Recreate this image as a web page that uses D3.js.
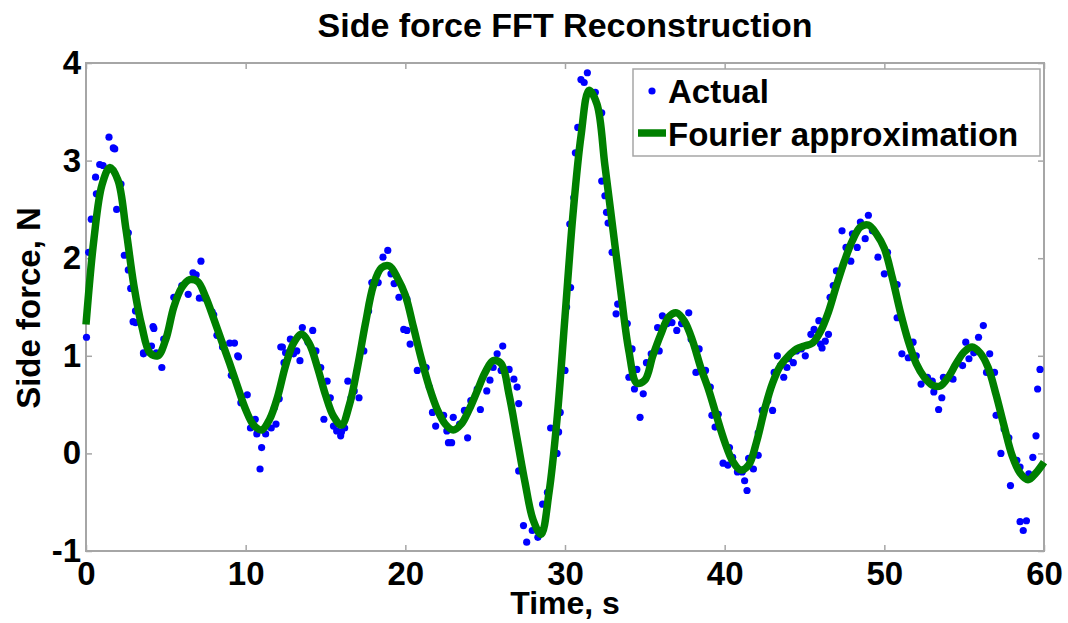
<!DOCTYPE html>
<html>
<head>
<meta charset="utf-8">
<script src="https://cdn.jsdelivr.net/npm/d3@7"></script>
<style>
  html, body { margin: 0; padding: 0; background: #fff; }
  svg text { font-family: "Liberation Sans", Arial, Helvetica, sans-serif; font-weight: bold; fill: #000; }
</style>
</head>
<body>
<svg id="chart" width="1068" height="623"></svg>
<script>
// Measured side force samples (time in s, force in N)
const actualTime = [
  0.03, 0.17, 0.33, 0.6, 0.65, 0.86, 1.07, 1.44, 1.71, 1.8, 1.92, 2.19, 2.4, 2.65, 2.65, 2.8, 2.95, 3.1, 3.1, 3.6, 3.6,
  4.1, 4.2, 4.25, 4.4, 4.75, 4.87, 5.5, 5.6, 6.0, 6.4, 6.7, 6.9, 7.1, 7.2, 7.4, 7.9, 8.0, 8.2, 8.55, 9.0, 9.1, 9.3,
  9.5, 9.55, 9.7, 10.1, 10.3, 10.6, 10.7, 10.9, 11.0, 11.25, 11.6, 11.8, 11.9, 12.1, 12.2, 12.3, 12.4, 12.5, 12.8,
  13.0, 13.2, 13.4, 13.55, 13.9, 14.2, 14.4, 14.7, 14.9, 15.1, 15.3, 15.5, 15.7, 15.95, 16.0, 16.2, 16.4, 16.6, 16.8,
  17.1, 17.4, 17.7, 17.9, 18.3, 18.6, 18.9, 19.1, 19.3, 19.6, 19.9, 20.1, 20.1, 20.3, 20.75, 21.3, 21.5, 21.7, 21.9,
  22.4, 22.6, 22.7, 22.9, 23.0, 23.4, 23.7, 23.9, 24.1, 24.5, 24.7, 25.1, 25.3, 25.5, 25.75, 26.0, 26.1, 26.5, 26.8,
  27.0, 27.1, 27.1, 27.4, 27.6, 27.95, 28.3, 28.6, 28.9, 29.1, 29.5, 29.6, 29.7, 29.9, 30.0, 30.1, 30.3, 30.35, 30.55,
  30.65, 30.8, 31.0, 31.2, 31.4, 31.9, 32.3, 32.3, 32.5, 32.6, 32.7, 32.95, 33.2, 33.3, 33.6, 33.9, 34.0, 34.2, 34.35,
  34.5, 34.7, 34.9, 35.1, 35.4, 35.8, 35.9, 36.1, 36.4, 36.7, 37.0, 37.3, 37.75, 37.9, 38.2, 38.4, 38.8, 39.1, 39.2,
  39.4, 39.6, 39.9, 40.2, 40.3, 40.5, 40.8, 41.1, 41.25, 41.4, 41.5, 41.8, 42.1, 42.1, 42.35, 42.7, 43.0, 43.1, 43.3,
  43.5, 43.7, 43.9, 44.0, 44.3, 44.5, 44.8, 45.05, 45.4, 45.6, 45.9, 46.0, 46.1, 46.3, 46.5, 46.6, 46.8, 47.0, 47.35,
  47.6, 47.9, 48.0, 48.3, 48.5, 48.8, 49.0, 49.25, 49.6, 50.0, 50.2, 50.8, 50.8, 51.1, 51.5, 51.8, 52.0, 52.3, 52.7,
  53.0, 53.1, 53.4, 53.6, 53.7, 54.3, 54.6, 54.9, 55.1, 55.3, 55.6, 55.9, 56.2, 56.4, 56.6, 56.9, 57.0, 57.3, 57.5,
  57.8, 57.9, 58.3, 58.5, 58.5, 58.7, 58.9, 59.05, 59.3, 59.5, 59.6, 59.75
];
const actualForce = [
  1.19, 2.06, 2.40, 2.83, 2.66, 2.96, 2.95, 3.24, 3.13, 3.12, 2.50, 2.76, 2.03, 2.26, 1.88, 1.69, 1.35, 1.46, 1.34, 1.02, 1.03,
  1.10, 1.30, 1.28, 1.03, 0.88, 1.17, 1.60, 1.60, 1.72, 1.63, 1.85, 1.83, 1.59, 1.97, 1.59, 1.45, 1.42, 1.21, 1.09, 1.13, 0.80, 1.13,
  1.00, 0.99, 0.52, 0.60, 0.26, 0.35, 0.20, -0.16, 0.06, 0.20, 0.26, 0.47, 0.30, 0.56, 1.09, 1.09, 0.93, 1.03, 1.17,
  1.02, 1.05, 0.95, 1.29, 1.14, 1.26, 1.05, 0.88, 0.35, 0.74, 0.57, 0.28, 0.23, 0.18, 0.22, 0.26, 0.74, 0.57, 0.64,
  0.57, 1.05, 1.46, 1.75, 1.75, 2.01, 2.08, 1.84, 1.74, 1.60, 1.27, 1.58, 1.26, 1.12, 0.85, 0.88, 0.68, 0.42, 0.28,
  0.39, 0.23, 0.11, 0.11, 0.37, 0.30, 0.44, 0.16, 0.54, 0.66, 0.45, 0.64, 0.75, 0.88, 1.02, 0.85, 1.10, 0.86, 0.76,
  0.68, 0.51, -0.18, -0.74, -0.91, -0.79, -0.86, -0.52, -0.40, 0.26, 0.00, 0.22, 0.42, 0.85, 0.85, 1.50, 2.35, 1.70, 2.62,
  3.08, 3.34, 3.83, 3.80, 3.90, 3.70, 3.49, 2.79, 2.64, 2.47, 2.36, 2.06, 1.43, 1.53, 1.53, 1.33, 0.78, 1.07, 0.66,
  0.86, 0.37, 0.61, 0.93, 1.02, 1.29, 1.05, 1.41, 1.33, 1.34, 1.26, 1.33, 1.44, 1.17, 0.83, 1.07, 0.85, 0.68, 0.39,
  0.27, 0.40, -0.10, -0.12, 0.06, -0.04, -0.19, -0.19, -0.28, -0.38, -0.05, -0.16, -0.02, 0.21, 0.44, 0.54, 0.44, 0.83, 1.00,
  0.90, 0.78, 0.88, 0.97, 0.93, 1.05, 1.07, 1.00, 1.22, 1.27, 1.36, 1.12, 1.08, 1.15, 1.22, 1.60, 1.72, 1.87, 2.28,
  2.11, 1.97, 2.25, 2.11, 2.37, 2.20, 2.44, 2.28, 2.01, 1.84, 2.06, 1.73, 1.39, 1.02, 0.98, 1.14, 1.00, 0.71, 0.78,
  0.74, 0.63, 0.45, 0.57, 0.78, 0.76, 0.93, 0.90, 1.14, 0.97, 1.03, 1.19, 1.31, 0.83, 1.02, 0.83, 0.39, 0.00, 0.25,
  0.16, -0.33, -0.07, -0.14, -0.70, -0.79, -0.69, -0.21, -0.04, 0.18, 0.66, 0.86
];

// Fourier reconstruction, sampled every 0.5 s from 0 to 60 s
const fourierStep = 0.5;
const fourierForce = [
  1.32, 2.20, 2.75, 2.93, 2.80, 2.30, 1.72, 1.30, 1.03, 1.00,
  1.17, 1.50, 1.70, 1.78, 1.76, 1.60, 1.38, 1.15, 0.92, 0.68,
  0.45, 0.29, 0.24, 0.35, 0.58, 0.90, 1.13, 1.22, 1.12, 0.88,
  0.60, 0.38, 0.29, 0.50, 0.88, 1.33, 1.72, 1.90, 1.92, 1.80,
  1.62, 1.30, 0.97, 0.68, 0.45, 0.30, 0.24, 0.30, 0.45, 0.64,
  0.83, 0.95, 0.92, 0.60, 0.15, -0.30, -0.68, -0.83, -0.40, 0.35,
  1.40, 2.45, 3.25, 3.72, 3.58, 2.95, 2.30, 1.65, 1.05, 0.72,
  0.75, 1.00, 1.22, 1.40, 1.44, 1.35, 1.15, 0.88, 0.65, 0.38,
  0.12, -0.08, -0.17, -0.12, 0.12, 0.45, 0.72, 0.90, 1.00, 1.07,
  1.10, 1.13, 1.25, 1.45, 1.72, 1.97, 2.18, 2.32, 2.34, 2.25,
  2.10, 1.80, 1.45, 1.15, 0.92, 0.78, 0.70, 0.69, 0.78, 0.92,
  1.04, 1.09, 1.03, 0.88, 0.60, 0.28, -0.02, -0.20, -0.27, -0.20,
  -0.09
];

const xTicks = [0, 10, 20, 30, 40, 50, 60];
const yTicks = [-1, 0, 1, 2, 3, 4];
const legendLabels = ["Actual", "Fourier approximation"];

const svg = d3.select("#chart");
const plot = { left: 86, right: 1044, top: 63, bottom: 551 };

const x = d3.scaleLinear().domain([0, 60]).range([plot.left, plot.right]);
const y = d3.scaleLinear().domain([-1, 4]).range([plot.bottom, plot.top]);

const axisColor = "#a6a6a6";
const fontSize = 33;
// Plain hyphen for negative tick labels
const tickFmt = d => String(d);

// Frame with inward ticks on all four sides
function styleAxis(g) {
  g.select(".domain").remove();
  g.selectAll(".tick line").attr("stroke", axisColor).attr("stroke-width", 1.5);
}
svg.append("g").attr("transform", `translate(0,${plot.bottom})`)
  .call(d3.axisBottom(x).tickValues(xTicks).tickSize(-6).tickFormat(tickFmt))
  .call(styleAxis)
  .call(g => g.selectAll(".tick text").attr("font-size", fontSize).attr("dy", "0.71em").attr("y", 11));
svg.append("g").attr("transform", `translate(0,${plot.top})`)
  .call(d3.axisTop(x).tickValues(xTicks).tickSize(-6).tickFormat(""))
  .call(styleAxis);
svg.append("g").attr("transform", `translate(${plot.left},0)`)
  .call(d3.axisLeft(y).tickValues(yTicks).tickSize(-6).tickFormat(tickFmt))
  .call(styleAxis)
  .call(g => g.selectAll(".tick text").attr("font-size", fontSize).attr("x", -5));
svg.append("g").attr("transform", `translate(${plot.right},0)`)
  .call(d3.axisRight(y).tickValues(yTicks).tickSize(-6).tickFormat(""))
  .call(styleAxis);

svg.append("rect")
  .attr("x", plot.left).attr("y", plot.top)
  .attr("width", plot.right - plot.left).attr("height", plot.bottom - plot.top)
  .attr("fill", "none").attr("stroke", axisColor).attr("stroke-width", 2);

// Data layers
const points = actualTime.map((t, i) => ({ t, v: actualForce[i] }));
svg.append("g").selectAll("circle").data(points).join("circle")
  .attr("cx", d => x(d.t)).attr("cy", d => y(d.v)).attr("r", 3.6)
  .attr("fill", "#0000ff");

const line = d3.line()
  .x((d, i) => x(i * fourierStep))
  .y(d => y(d))
  .curve(d3.curveCatmullRom.alpha(0.5));
svg.append("path").datum(fourierForce)
  .attr("d", line)
  .attr("fill", "none").attr("stroke", "#008000").attr("stroke-width", 7.5)
  .attr("stroke-linejoin", "round").attr("stroke-linecap", "butt");

// Legend
const lg = svg.append("g");
lg.append("rect").attr("x", 633).attr("y", 69).attr("width", 407).attr("height", 87)
  .attr("fill", "#fff").attr("stroke", axisColor).attr("stroke-width", 1.5);
lg.append("circle").attr("cx", 652).attr("cy", 91).attr("r", 3.6).attr("fill", "#0000ff");
lg.append("line").attr("x1", 638).attr("x2", 666).attr("y1", 133).attr("y2", 133)
  .attr("stroke", "#008000").attr("stroke-width", 7.5);
lg.selectAll("text").data(legendLabels).join("text")
  .attr("x", 668).attr("y", (d, i) => 103 + i * 43)
  .attr("font-size", fontSize).text(d => d);

// Titles
svg.append("text").attr("x", 565).attr("y", 37).attr("text-anchor", "middle")
  .attr("font-size", 34).text("Side force FFT Reconstruction");
svg.append("text").attr("x", 565).attr("y", 614).attr("text-anchor", "middle")
  .attr("font-size", 32).text("Time, s");
svg.append("text").attr("transform", "translate(40,308) rotate(-90)").attr("text-anchor", "middle")
  .attr("font-size", fontSize).text("Side force, N");
</script>
</body>
</html>
